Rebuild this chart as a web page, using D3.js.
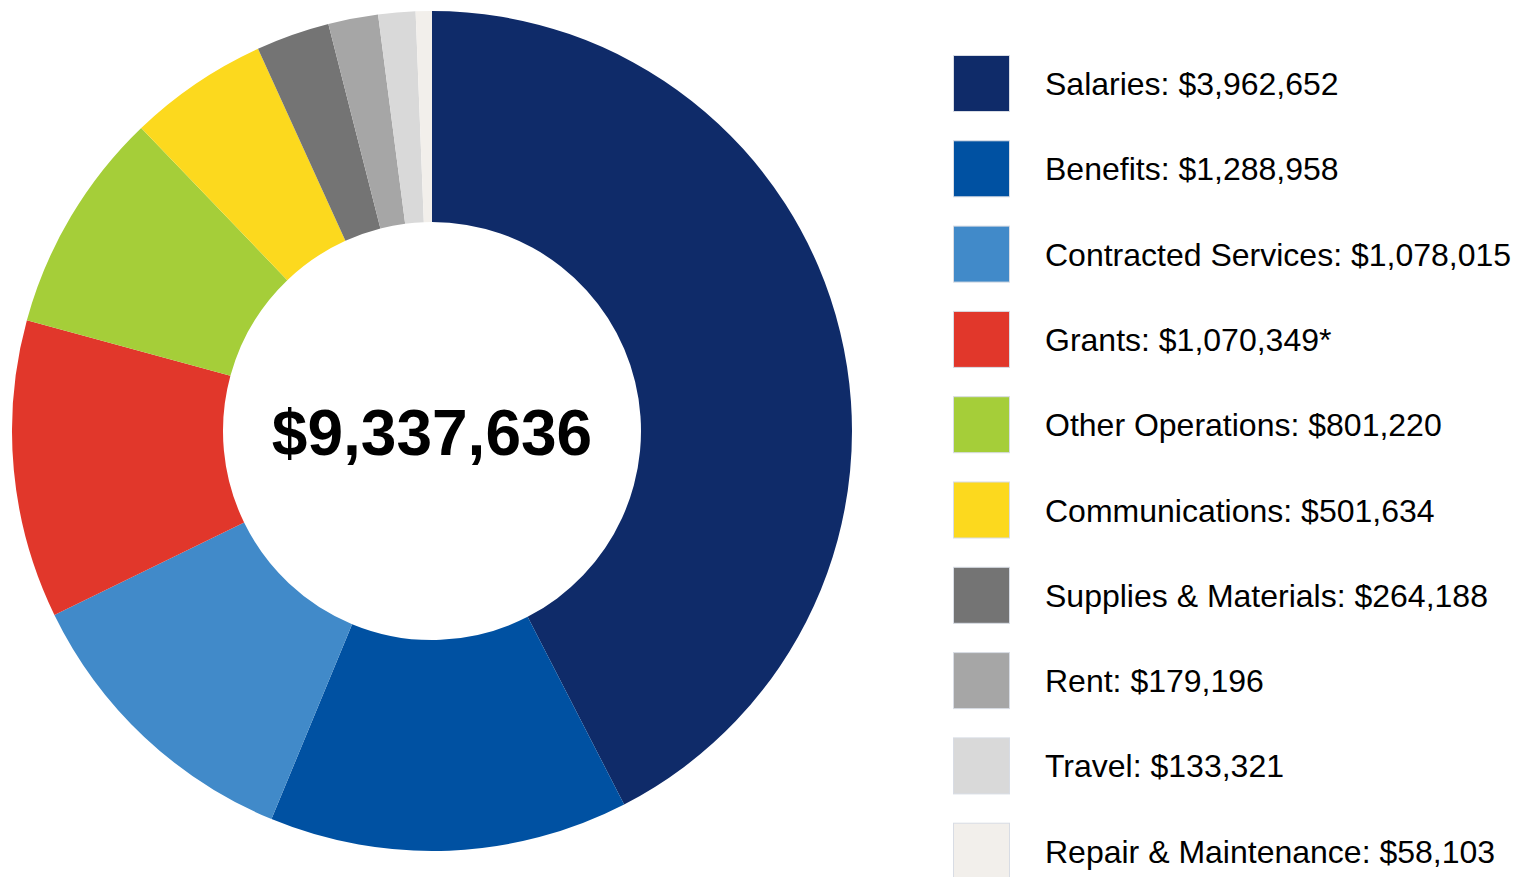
<!DOCTYPE html>
<html>
<head>
<meta charset="utf-8">
<script src="https://cdn.jsdelivr.net/npm/d3@7"></script>
<style>
  html, body { margin: 0; padding: 0; background: #fff; }
  svg { display: block; font-family: "Liberation Sans", Arial, sans-serif; }
</style>
</head>
<body>
<div id="chart"></div>
<script>
const categories = [
  "Salaries", "Benefits", "Contracted Services", "Grants", "Other Operations",
  "Communications", "Supplies & Materials", "Rent", "Travel", "Repair & Maintenance"
];
const amounts = [3962652, 1288958, 1078015, 1070349, 801220, 501634, 264188, 179196, 133321, 58103];
const suffixes = ["", "", "", "*", "", "", "", "", "", ""];
const colors = [
  "#0f2b69", "#0051a2", "#418ac9", "#e1372b", "#a5ce39",
  "#fcd91e", "#747474", "#a6a6a6", "#d9d9d9", "#f2efeb"
];
const totalLabel = "$9,337,636";

const width = 1515, height = 877;
const cx = 432, cy = 431, outerR = 420, innerR = 209;

const svg = d3.select("#chart").append("svg")
  .attr("width", width)
  .attr("height", height);

const data = categories.map((name, i) => ({ name, value: amounts[i], color: colors[i], suffix: suffixes[i] }));

const pie = d3.pie().value(d => d.value).sort(null);
const arc = d3.arc().innerRadius(innerR).outerRadius(outerR);

const gPie = svg.append("g").attr("transform", `translate(${cx},${cy})`);
gPie.selectAll("path")
  .data(pie(data))
  .join("path")
  .attr("d", arc)
  .attr("fill", d => d.data.color);

gPie.append("text")
  .attr("text-anchor", "middle")
  .attr("dominant-baseline", "central")
  .attr("y", 2)
  .attr("font-size", 64)
  .attr("font-weight", "bold")
  .attr("fill", "#000")
  .text(totalLabel);

// legend
const fmt = d3.format(",d");
const legendY = d3.scaleBand()
  .domain(categories)
  .range([55, 55 + 85.3 * categories.length])
  .paddingInner(0);

const gLegend = svg.append("g");
const item = gLegend.selectAll("g")
  .data(data)
  .join("g")
  .attr("transform", d => `translate(953,${legendY(d.name)})`);

item.append("rect")
  .attr("x", 0.5)
  .attr("y", 0.5)
  .attr("width", 56)
  .attr("height", 56)
  .attr("fill", d => d.color)
  .attr("stroke", "#d8dce4")
  .attr("stroke-width", 1);

item.append("text")
  .attr("x", 92)
  .attr("y", 29)
  .attr("dominant-baseline", "central")
  .attr("font-size", 32)
  .attr("fill", "#000")
  .text(d => `${d.name}: $${fmt(d.value)}${d.suffix}`);
</script>
</body>
</html>
